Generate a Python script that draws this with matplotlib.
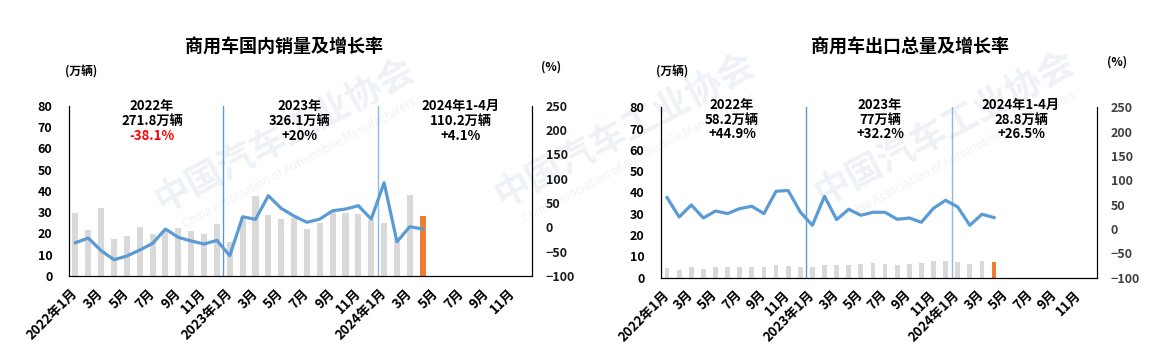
import matplotlib
matplotlib.use('Agg')
import matplotlib.pyplot as plt
import numpy as np

plt.rcParams['font.family'] = ['Noto Sans CJK SC', 'DejaVu Sans']

# 2022-01 .. 2024-04 monthly data
dom_sales = [29.7, 21.6, 32.1, 17.4, 18.8, 23.1, 19.9, 21.0, 22.5, 21.3, 19.9, 24.6,
             15.9, 27.9, 37.7, 28.6, 26.8, 27.1, 22.1, 25.0, 29.9, 29.7, 29.1, 26.3,
             25.0, 17.5, 38.2, 28.2]
dom_growth = [-31.6, -22.0, -48.0, -66.5, -59.0, -46.6, -33.0, -3.5, -20.6, -28.0, -34.3, -26.8,
              -58.3, 21.8, 16.4, 65.0, 39.0, 23.2, 10.3, 17.0, 34.1, 37.6, 44.4, 17.0,
              91.7, -29.6, 1.3, -3.5]
exp_volume = [4.7, 3.6, 5.0, 4.1, 5.0, 5.0, 5.0, 5.0, 4.9, 6.0, 5.5, 5.0,
              5.0, 6.0, 5.8, 5.8, 6.4, 6.9, 6.4, 5.8, 6.4, 6.9, 7.8, 7.8,
              7.3, 6.4, 7.8, 7.3]
exp_growth = [64.6, 24.7, 49.4, 22.6, 37.0, 31.7, 42.0, 46.7, 31.7, 77.6, 79.0, 35.0,
              7.6, 67.3, 19.3, 40.6, 28.2, 34.4, 34.4, 20.0, 22.6, 13.8, 42.6, 59.0,
              45.3, 7.6, 30.3, 23.5]

months = []
for y in [2022, 2023, 2024]:
    for m in range(1, 13):
        months.append(f'{y}年{m}月' if m == 1 else f'{m}月')

dom_notes = [('2022年', '271.8万辆', '-38.1%'), ('2023年', '326.1万辆', '+20%'),
             ('2024年1-4月', '110.2万辆', '+4.1%')]
exp_notes = [('2022年', '58.2万辆', '+44.9%'), ('2023年', '77万辆', '+32.2%'),
             ('2024年1-4月', '28.8万辆', '+26.5%')]

W, H = 1150, 361
fig = plt.figure(figsize=(W / 100, H / 100), dpi=100)


def px(x, y):
    return x / W, 1 - y / H


BLUE = '#5B9BD5'
GRAY = '#D9D9D9'
ORANGE = '#ED7D31'

# faint watermarks (behind everything)
for cx, cy in [(285, 135), (625, 130), (945, 128)]:
    fig.text(*px(cx, cy), '中国汽车工业协会', fontsize=26, fontweight='bold', color='#EEF2F7',
             rotation=28, ha='center', va='center', zorder=-5)
    fig.text(*px(cx + 14, cy + 28), 'China Association of Automobile Manufacturers', fontsize=8.5,
             color='#EEF2F7', rotation=28, ha='center', va='center', zorder=-5)


def make_chart(rect, vol, growth, bar_w, title, title_xy, notes, note_x, note_y,
               unit_l, unit_r, rcolor, first_red):
    ax = fig.add_axes(rect)
    ax.patch.set_alpha(0)
    n = len(vol)
    x = np.arange(len(months))
    colors = [GRAY] * (n - 1) + [ORANGE]
    ax.bar(x[:n], vol, width=bar_w, color=colors, zorder=2)
    ax.set_xlim(-0.5, len(months) - 0.5)
    ax.set_ylim(0, 80)
    ax.set_yticks(range(0, 81, 10))
    ax.tick_params(axis='y', length=0, pad=12, labelsize=9)
    for t in ax.get_yticklabels():
        t.set_fontweight('bold')
    ax.set_xticks(x[::2])
    ax.set_xticklabels(months[::2], rotation=45, ha='right', va='center',
                       rotation_mode='anchor', fontsize=9.5, fontweight='bold')
    ax.tick_params(axis='x', length=0, pad=11)
    ax.axvline(11.5, color=BLUE, lw=1, zorder=3)
    ax.axvline(23.5, color=BLUE, lw=1, alpha=0.7, zorder=3)
    ax.spines['top'].set_visible(False)

    ax2 = ax.twinx()
    ax2.plot(x[:n], growth, color=BLUE, lw=2.3, zorder=4)
    ax2.set_ylim(-100, 250)
    ax2.set_yticks(range(-100, 251, 50))
    ax2.tick_params(axis='y', length=0, pad=10, labelsize=9, labelcolor=rcolor)
    for t in ax2.get_yticklabels():
        t.set_fontweight('bold')
    ax2.spines['top'].set_visible(False)

    fig.text(*px(*title_xy), title, fontsize=13, fontweight='bold', ha='center', va='center')
    fig.text(*px(*unit_l), '(万辆)', fontsize=8.5, fontweight='bold', ha='center', va='center')
    fig.text(*px(*unit_r), '(%)', fontsize=8.5, fontweight='bold', ha='center', va='center')
    for i, (a, b, c) in enumerate(notes):
        for j, s in enumerate((a, b, c)):
            col = 'red' if (first_red and i == 0 and j == 2) else 'black'
            fig.text(*px(note_x[i], note_y[j]), s, fontsize=9.5, fontweight='bold',
                     color=col, ha='center', va='center')


make_chart([69 / W, 1 - 276 / H, 463 / W, 170.3 / H], dom_sales, dom_growth, 0.47,
           '商用车国内销量及增长率', (284, 47), dom_notes, [152, 300, 461], [106, 121, 136],
           (81, 72), (551, 67), '#1a1a1a', True)
make_chart([661 / W, 1 - 277.7 / H, 436 / W, 170.4 / H], exp_volume, exp_growth, 0.39,
           '商用车出口总量及增长率', (910, 47), exp_notes, [732, 880, 1021], [105, 120, 134],
           (672, 72), (1117, 62), '#404040', False)

fig.savefig('out.png', dpi=100)
